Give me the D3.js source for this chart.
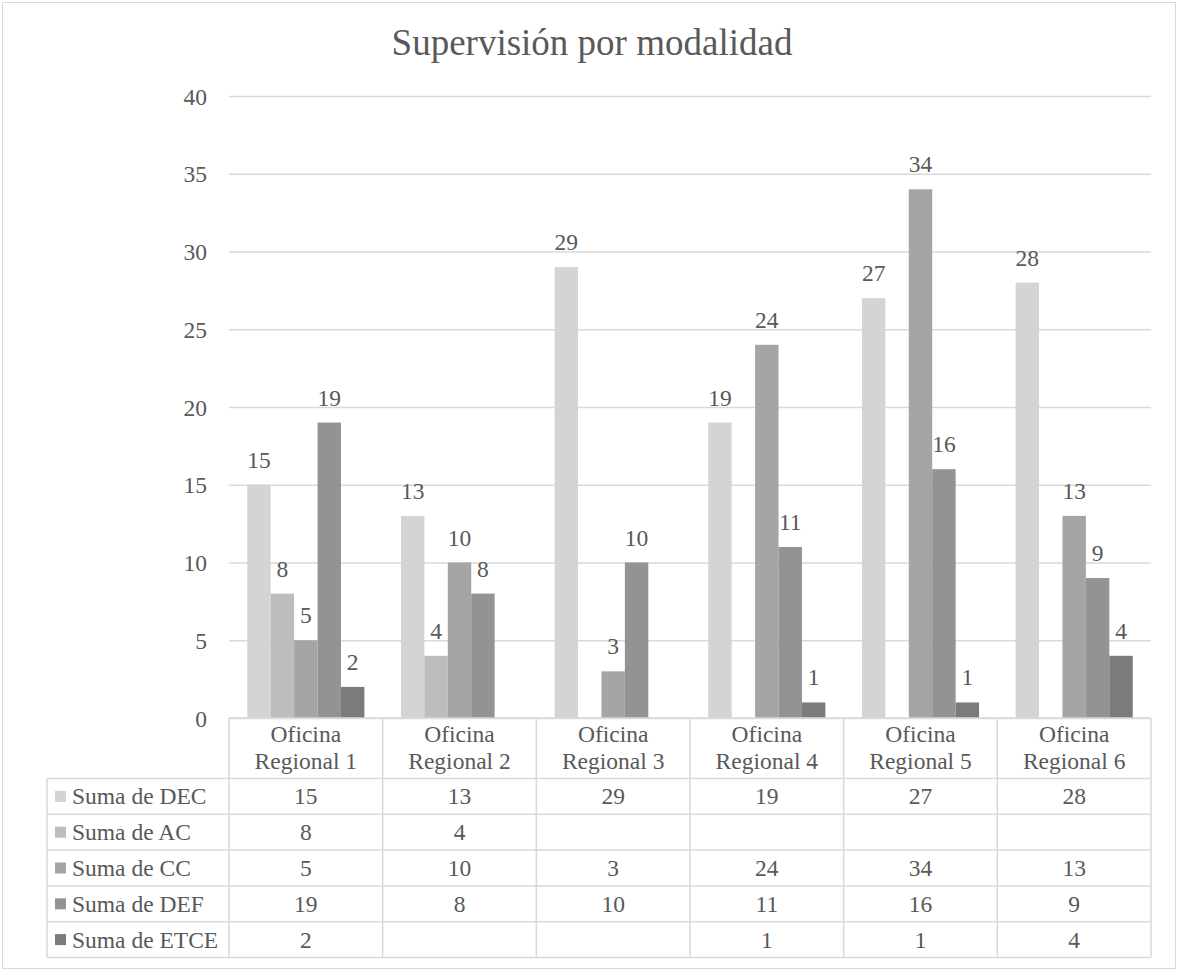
<!DOCTYPE html>
<html><head><meta charset="utf-8">
<script src="https://cdn.jsdelivr.net/npm/d3@7"></script>
<style>body{margin:0;background:#fff}svg{display:block}svg text{fill:#595959}</style>
</head><body>
<svg id="c" width="1178" height="970"></svg>
<script>
const categories = [["Oficina","Regional 1"],["Oficina","Regional 2"],["Oficina","Regional 3"],["Oficina","Regional 4"],["Oficina","Regional 5"],["Oficina","Regional 6"]];
const seriesNames = ["Suma de DEC","Suma de AC","Suma de CC","Suma de DEF","Suma de ETCE"];
const DEC  = [15,13,29,19,27,28];
const AC   = [8,4,null,null,null,null];
const CC   = [5,10,3,24,34,13];
const DEF  = [19,8,10,11,16,9];
const ETCE = [2,null,null,1,1,4];
const yTicks = [0,5,10,15,20,25,30,35,40];
const colors = ["#d4d4d4","#bdbdbd","#a5a5a5","#939393","#7b7b7b"];
const series = [DEC,AC,CC,DEF,ETCE];
const FONT = "'Liberation Serif', 'Times New Roman', 'DejaVu Serif', serif";
const FS = 23.5;

const svg = d3.select("#c");
const L = 229, R = 1151, T = 96, B = 718;
svg.append("rect").attr("x",2.5).attr("y",2.5).attr("width",1173).attr("height",966).attr("fill","#fff").attr("stroke","#d9d9d9");

const y = d3.scaleLinear().domain([0,40]).range([B,T]);
const x0 = d3.scaleBand().domain(d3.range(categories.length)).range([L,R]).paddingInner(0).paddingOuter(0);
const x1 = d3.scaleBand().domain(d3.range(series.length)).range([0,x0.bandwidth()]).paddingInner(0).paddingOuter(0.78);

const yAxis = d3.axisLeft(y).tickValues(yTicks).tickSize(-(R-L)).tickPadding(22);
const ga = svg.append("g").attr("transform",`translate(${L},0)`).call(yAxis);
ga.select(".domain").remove();
ga.selectAll(".tick line").attr("stroke","#d9d9d9").attr("stroke-width",1.5);
ga.selectAll(".tick text").attr("font-size",FS).attr("fill","#595959").attr("dy","0.34em");

series.forEach((s,si)=>{
  const g = svg.append("g");
  s.forEach((v,ci)=>{
    if(v==null) return;
    const bx = x0(ci)+x1(si);
    g.append("rect").attr("x",bx).attr("y",y(v)).attr("width",x1.bandwidth()).attr("height",B-y(v)).attr("fill",colors[si]);
    g.append("text").attr("x",bx+x1.bandwidth()/2).attr("y",y(v)-17).attr("text-anchor","middle").attr("font-size",FS).text(v);
  });
});

const tableLeft = 47, rowH = 35.8, headerBottom = 778.5;
const lc = "#d9d9d9";
const tg = svg.append("g");
tg.append("line").attr("x1",L).attr("x2",R).attr("y1",B).attr("y2",B).attr("stroke",lc).attr("stroke-width",1.5);
d3.range(categories.length+1).forEach(i=>{
  const xx = i<categories.length ? x0(i) : R;
  tg.append("line").attr("x1",xx).attr("x2",xx).attr("y1",B).attr("y2",headerBottom+rowH*5).attr("stroke",lc).attr("stroke-width",1.5);
});
tg.append("line").attr("x1",tableLeft).attr("x2",tableLeft).attr("y1",headerBottom).attr("y2",headerBottom+rowH*5).attr("stroke",lc).attr("stroke-width",1.5);
d3.range(6).forEach(r=>{
  tg.append("line").attr("x1",tableLeft).attr("x2",R).attr("y1",headerBottom+rowH*r).attr("y2",headerBottom+rowH*r).attr("stroke",lc).attr("stroke-width",1.5);
});
categories.forEach((c,ci)=>{
  const cx = x0(ci)+x0.bandwidth()/2;
  tg.append("text").attr("x",cx).attr("y",742).attr("text-anchor","middle").attr("font-size",FS).text(c[0]);
  tg.append("text").attr("x",cx).attr("y",769).attr("text-anchor","middle").attr("font-size",FS).text(c[1]);
});
seriesNames.forEach((n,si)=>{
  const cy = headerBottom+rowH*si+rowH/2;
  tg.append("rect").attr("x",55).attr("y",cy-5.5).attr("width",11).attr("height",11).attr("fill",colors[si]);
  tg.append("text").attr("x",72).attr("y",cy+8).attr("font-size",FS).text(n);
  series[si].forEach((v,ci)=>{
    if(v==null) return;
    tg.append("text").attr("x",x0(ci)+x0.bandwidth()/2).attr("y",cy+8).attr("text-anchor","middle").attr("font-size",FS).text(v);
  });
});
svg.append("text").attr("x",592).attr("y",55).attr("text-anchor","middle").attr("font-size",37).text("Supervisión por modalidad");
svg.selectAll("text").attr("font-family",FONT).style("font-family",FONT).attr("fill","#595959");
</script>
</body></html>
